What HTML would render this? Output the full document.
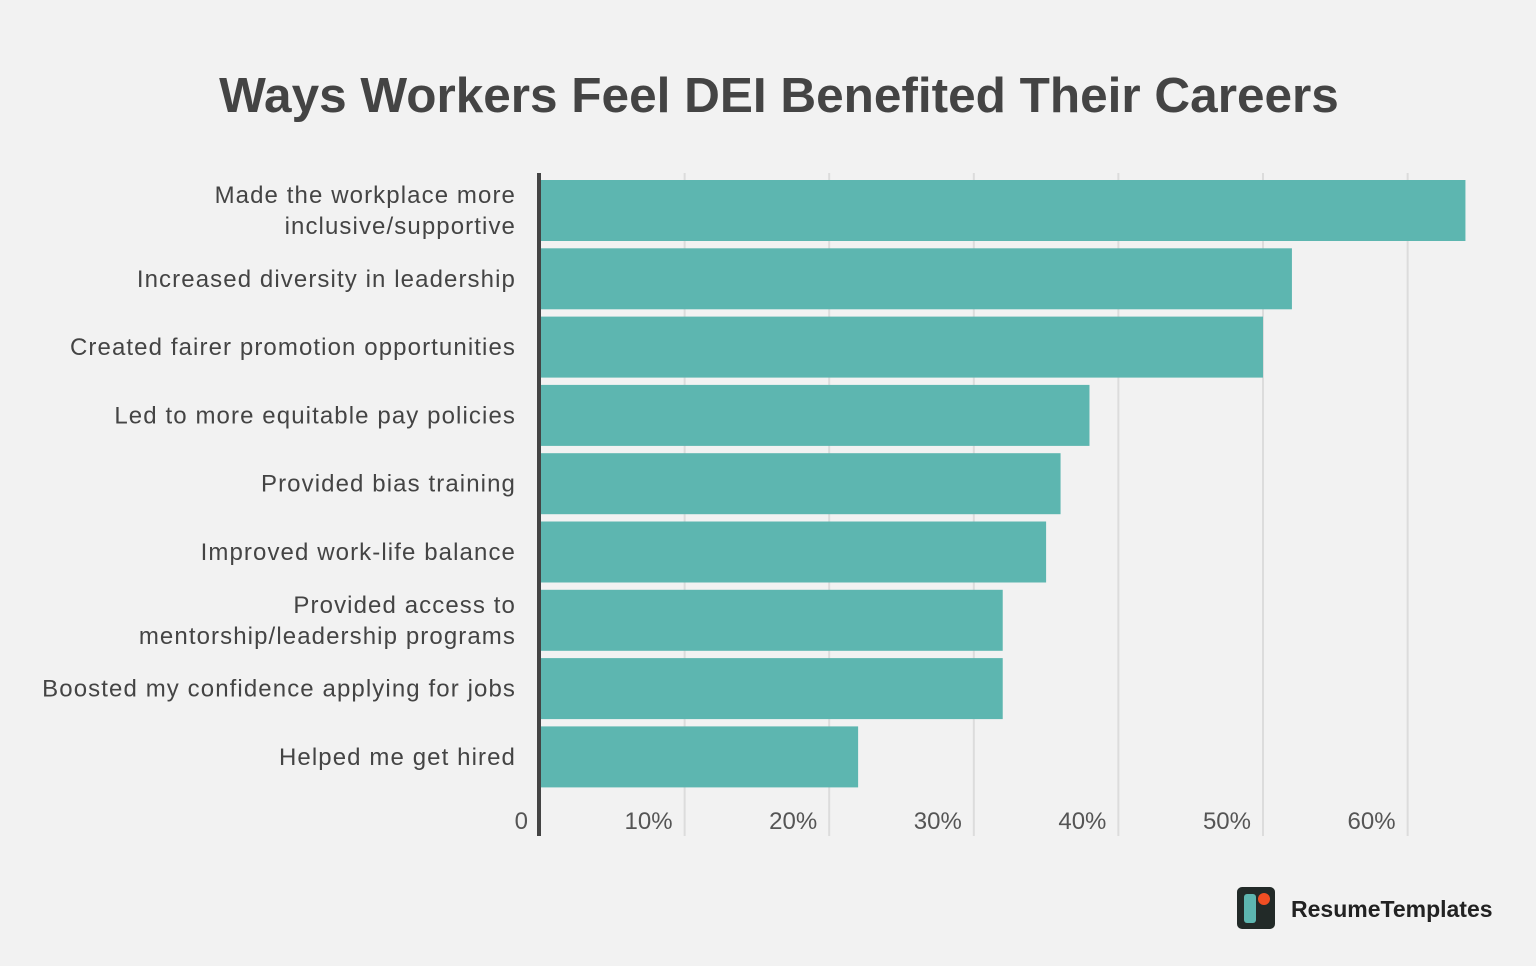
<!DOCTYPE html>
<html><head><meta charset="utf-8"><style>
body{margin:0;background:#f2f2f2;}
svg{display:block;font-family:"Liberation Sans",sans-serif;}
</style></head><body>
<svg id="chart" width="1536" height="966" viewBox="0 0 1536 966">
<rect width="1536" height="966" fill="#f2f2f2"/>
<text x="779" y="112" text-anchor="middle" font-size="49.5" font-weight="bold" fill="#444">Ways Workers Feel DEI Benefited Their Careers</text>
<g id="grid"></g>
<g id="bars"></g>
<g id="labels"></g>
<g id="ticks"></g>
<line x1="539" y1="173" x2="539" y2="836" stroke="#444" stroke-width="4"/>
<g>
<rect x="1237" y="887" width="38" height="42" rx="5" fill="#222a28"/>
<rect x="1244" y="894" width="12" height="29" rx="3" fill="#5db6b0"/>
<circle cx="1264" cy="899" r="6" fill="#f04e23"/>
<text x="1291" y="917" font-size="23" font-weight="bold" fill="#222">ResumeTemplates</text>
</g>
</svg>
<script>
const categories=[["Made the workplace more","inclusive/supportive"],["Increased diversity in leadership"],["Created fairer promotion opportunities"],["Led to more equitable pay policies"],["Provided bias training"],["Improved work-life balance"],["Provided access to","mentorship/leadership programs"],["Boosted my confidence applying for jobs"],["Helped me get hired"]];
const values=[64,52,50,38,36,35,32,32,22];
const tickValues=[0,10,20,30,40,50,60];
const tickLabels=["0","10%","20%","30%","40%","50%","60%"];
const NS="http://www.w3.org/2000/svg";
const x0=540,pxPer=14.46,top0=180,pitch=68.3,bh=61;
const xs=v=>x0+v*pxPer;
const yb=i=>top0+i*pitch;
function mk(t,a,p){const e=document.createElementNS(NS,t);for(const k in a)e.setAttribute(k,a[k]);p.appendChild(e);return e;}
const grid=document.getElementById('grid'),bars=document.getElementById('bars'),labels=document.getElementById('labels'),ticks=document.getElementById('ticks');
tickValues.forEach((v,i)=>{
 if(v>0){const l=mk('line',{x1:xs(v),x2:xs(v),y1:173,y2:836,stroke:'#dcdcdc','stroke-width':2},grid);
 
 }
 const t=mk('text',{x:v===0?528:xs(v)-12,y:829,'text-anchor':'end','font-size':24,fill:'#555'},ticks);
 t.textContent=tickLabels[i];
 
 
});
values.forEach((v,i)=>{
 const r=mk('rect',{x:x0,y:yb(i),width:xs(v)-x0,height:bh,fill:'#5db6b0'},bars);
 
 
 const lines=categories[i];const cy=yb(i)+bh/2;
 lines.forEach((s,j)=>{
  const y=cy+8+(j-(lines.length-1)/2)*31;
  const t=mk('text',{x:516,y:y,'text-anchor':'end','font-size':24,'letter-spacing':1.1,fill:'#444'},labels);
  t.textContent=s;
  
  
 });
});
</script>
</body></html>
